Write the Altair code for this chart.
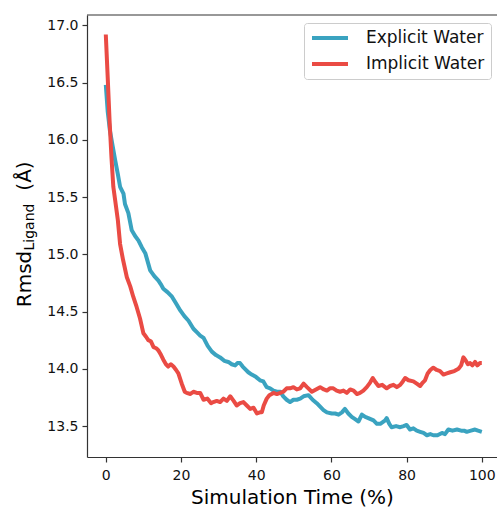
import altair as alt
import pandas as pd

series_names = ["Explicit Water", "Implicit Water"]
series_colors = ["#3aa3c0", "#ea4b44"]

explicit_x = [0, 0.5, 1.1, 1.8, 2.5, 3.2, 3.8, 4.7, 5.1, 6.0, 6.9, 7.8, 8.7, 9.6, 10.5, 11.2, 11.8,
              12.9, 14.0, 14.6, 15.3, 16.4, 17.6, 18.7, 19.8, 20.9, 22.0, 23.3, 24.2, 25.1, 26.0,
              27.1, 28.2, 29.3, 30.4, 31.5, 32.6, 33.5, 34.4, 35.0, 35.7, 36.4, 37.0, 37.9, 38.8,
              39.9, 41.0, 41.9, 42.8, 43.7, 44.6, 45.5, 46.4, 47.2, 48.1, 49.0, 49.9, 50.8, 51.7,
              52.6, 53.9, 55.0, 56.1, 57.0, 57.9, 58.8, 60.1, 61.0, 61.9, 62.8, 63.6, 64.5, 65.4,
              66.3, 67.2, 68.1, 69.0, 69.8, 71.2, 72.1, 73.0, 74.3, 74.7, 75.4, 76.0, 77.2, 78.3,
              79.2, 80.0, 80.9, 81.8, 82.7, 83.6, 84.5, 85.4, 86.3, 87.1, 88.2, 89.4, 90.2, 91.1,
              92.2, 93.4, 94.5, 95.3, 96.0, 97.1, 98.2, 99.0, 100]
explicit_y = [16.48, 16.25, 16.08, 15.95, 15.82, 15.70, 15.59, 15.53, 15.44, 15.36, 15.21, 15.16,
              15.12, 15.06, 15.01, 14.93, 14.86, 14.81, 14.77, 14.74, 14.70, 14.67, 14.63, 14.57,
              14.51, 14.46, 14.42, 14.35, 14.32, 14.29, 14.27, 14.20, 14.15, 14.12, 14.10, 14.07,
              14.06, 14.04, 14.03, 14.05, 14.05, 14.02, 14.00, 13.97, 13.95, 13.93, 13.90, 13.89,
              13.84, 13.83, 13.81, 13.80, 13.80, 13.76, 13.73, 13.71, 13.73, 13.73, 13.74, 13.76,
              13.77, 13.73, 13.70, 13.67, 13.64, 13.62, 13.61, 13.61, 13.60, 13.62, 13.65, 13.61,
              13.58, 13.56, 13.54, 13.60, 13.58, 13.57, 13.55, 13.52, 13.52, 13.55, 13.57, 13.52,
              13.49, 13.50, 13.49, 13.50, 13.51, 13.47, 13.48, 13.46, 13.45, 13.44, 13.42, 13.43,
              13.42, 13.42, 13.44, 13.43, 13.47, 13.46, 13.47, 13.46, 13.46, 13.45, 13.46, 13.47,
              13.46, 13.45]

implicit_x = [0, 0.5, 1.0, 1.5, 2.0, 2.5, 3.2, 3.8, 4.6, 5.6, 6.5, 7.3, 8.2, 9.1, 10.0, 10.7, 11.3,
              12.0, 12.7, 13.4, 14.0, 14.7, 15.3, 16.0, 16.6, 17.3, 18.0, 18.7, 19.3, 20.2, 21.0,
              21.5, 22.5, 23.3, 24.2, 25.1, 26.0, 27.0, 28.0, 28.6, 29.5, 30.4, 31.3, 32.2, 33.1,
              34.0, 34.8, 35.7, 36.6, 37.5, 38.4, 39.3, 40.2, 41.0, 41.5, 42.0, 42.8, 43.5, 44.6,
              45.5, 46.4, 47.2, 48.1, 49.0, 49.9, 50.8, 51.7, 52.6, 53.5, 54.8, 55.9, 57.0, 58.0,
              58.8, 59.6, 60.5, 61.4, 62.3, 63.2, 64.1, 65.0, 65.9, 66.8, 67.6, 68.5, 69.4, 70.3,
              71.0, 71.8, 72.5, 73.5, 74.7, 75.6, 76.5, 77.4, 78.3, 79.0, 79.6, 80.5, 81.8, 82.7,
              83.6, 84.3, 84.9, 85.6, 86.3, 87.1, 88.0, 88.9, 89.8, 90.7, 91.6, 92.7, 93.8, 94.5,
              95.1, 95.6, 96.3, 96.9, 97.5, 98.2, 98.8, 99.5, 100]
implicit_y = [16.92, 16.55, 16.17, 15.85, 15.59, 15.47, 15.30, 15.09, 14.95, 14.80, 14.72, 14.63,
              14.54, 14.44, 14.31, 14.28, 14.25, 14.24, 14.19, 14.18, 14.16, 14.12, 14.08, 14.04,
              14.02, 14.04, 14.02, 13.99, 13.96, 13.87, 13.80, 13.79, 13.78, 13.80, 13.79, 13.79,
              13.73, 13.74, 13.70, 13.71, 13.72, 13.71, 13.74, 13.72, 13.76, 13.72, 13.68, 13.70,
              13.71, 13.68, 13.65, 13.66, 13.61, 13.62, 13.62, 13.68, 13.74, 13.77, 13.79, 13.78,
              13.79, 13.80, 13.83, 13.83, 13.84, 13.82, 13.83, 13.87, 13.84, 13.80, 13.82, 13.84,
              13.82, 13.81, 13.83, 13.83, 13.81, 13.80, 13.81, 13.79, 13.82, 13.81, 13.78, 13.79,
              13.81, 13.84, 13.88, 13.92, 13.88, 13.85, 13.86, 13.83, 13.85, 13.86, 13.84, 13.86,
              13.89, 13.92, 13.90, 13.89, 13.87, 13.85, 13.88, 13.90, 13.96, 13.99, 14.01, 13.99,
              13.98, 13.95, 13.96, 13.97, 13.98, 14.00, 14.03, 14.10, 14.08, 14.04, 14.05, 14.03,
              14.06, 14.03, 14.05, 14.05]

x_ticks = [0, 20, 40, 60, 80, 100]
y_ticks = [13.5, 14.0, 14.5, 15.0, 15.5, 16.0, 16.5, 17.0]

df = pd.concat([
    pd.DataFrame({"t": explicit_x, "rmsd": explicit_y, "series": series_names[0], "order": range(len(explicit_x))}),
    pd.DataFrame({"t": implicit_x, "rmsd": implicit_y, "series": series_names[1], "order": range(len(implicit_x))}),
])

FONT = "DejaVu Sans"
SPINE = "#333333"

lines = alt.Chart(df).mark_line(strokeWidth=4, strokeCap="butt", strokeJoin="round").encode(
    x=alt.X("t:Q", scale=alt.Scale(domain=[-5, 104.04], nice=False, zero=False),
            axis=alt.Axis(values=x_ticks, title="Simulation Time (%)", format="d")),
    y=alt.Y("rmsd:Q", scale=alt.Scale(domain=[13.23, 17.09], nice=False, zero=False),
            axis=alt.Axis(values=y_ticks, title=None, format=".1f")),
    color=alt.Color("series:N", scale=alt.Scale(domain=series_names, range=series_colors),
                    legend=alt.Legend(title=None, orient="none", legendX=217, legendY=8)),
    order="order:Q",
)

one = pd.DataFrame({"k": [0]})
top_spine = alt.Chart(one).mark_rule(color=SPINE, strokeWidth=1.2).encode(
    x=alt.value(0), x2=alt.value(412), y=alt.value(0))

ylab_main = alt.Chart(one).mark_text(angle=270, fontSize=20, font=FONT, align="center",
                                     baseline="alphabetic", color="black").encode(
    x=alt.value(-56), y=alt.value(264), text=alt.value("Rmsd"))
ylab_sub = alt.Chart(one).mark_text(angle=270, fontSize=14, font=FONT, align="center",
                                    baseline="alphabetic", color="black").encode(
    x=alt.value(-53), y=alt.value(212), text=alt.value("Ligand"))
ylab_unit = alt.Chart(one).mark_text(angle=270, fontSize=20, font=FONT, align="center",
                                     baseline="alphabetic", color="black").encode(
    x=alt.value(-56), y=alt.value(161), text=alt.value("(Å)"))

chart = alt.layer(top_spine, lines, ylab_main, ylab_sub, ylab_unit).properties(
    width=410, height=442,
    autosize=alt.AutoSizeParams(type="none"),
    padding={"left": 87, "top": 15, "right": 0, "bottom": 50},
).configure_view(
    stroke=None
).configure_axis(
    grid=False, domain=True, domainColor=SPINE, domainWidth=1.2,
    tickColor=SPINE, tickSize=5, tickWidth=1.2,
    labelFont=FONT, labelFontSize=14, labelColor="#111111", labelPadding=4,
    titleFont=FONT, titleFontSize=20, titleFontWeight="normal", titleColor="black",
).configure_axisX(
    labelPadding=6, titlePadding=5
).configure_legend(
    symbolType="stroke", symbolStrokeWidth=4, symbolSize=1296, clipHeight=18, rowPadding=8,
    labelFont=FONT, labelFontSize=17, labelColor="#111111", labelOffset=16, padding=6,
    strokeColor="#cccccc", cornerRadius=3, fillColor="white",
)

chart.save("out.html", embed_options={"renderer": "svg", "actions": False})
